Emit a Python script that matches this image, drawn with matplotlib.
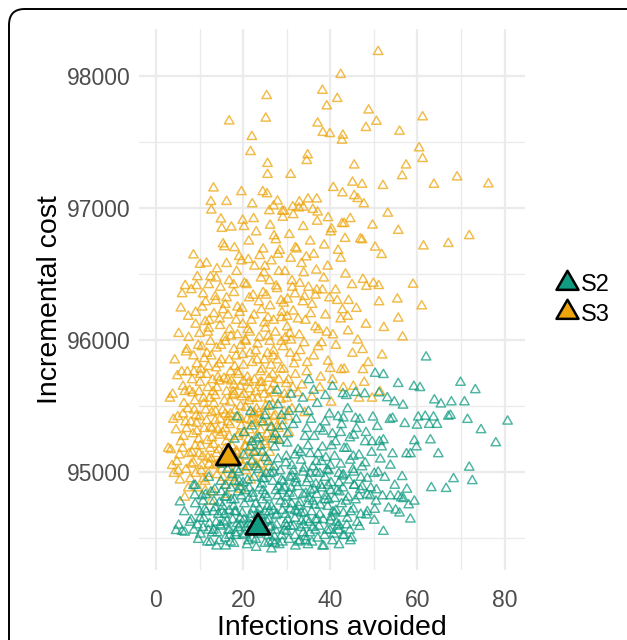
import matplotlib
matplotlib.use('Agg')
import matplotlib.pyplot as plt
from matplotlib.patches import FancyBboxPatch
from matplotlib.lines import Line2D
from matplotlib.path import Path

plt.rcParams['font.family'] = ['Liberation Sans', 'DejaVu Sans']

# ---------------- data ----------------
series_labels = ['S2', 'S3']
series_colors = ['#119C82', '#EDA50C']

# S2: (infections avoided, incremental cost)
s2_xy = [
    # sparse right / top part
    (62.0,95872),(55.6,95671),(59.2,95649),(60.6,95640),(69.9,95680),(73.3,95624),(50.3,95748),(52.2,95739),
    (45.8,95603),(42.9,95594),(47.9,95594),(51.2,95600),(53.1,95563),(63.9,95547),(65.4,95516),(67.8,95532),
    (70.8,95532),(54.7,95532),(56.7,95507),(80.7,95386),(78.0,95222),(74.6,95321),(71.5,95399),(67.6,95430),
    (67.1,95423),(63.7,95417),(61.8,95423),(60.2,95417),(59.9,95355),(62.7,95361),(64.5,95361),(57.1,95368),
    (54.3,95408),(53.7,95399),(50.8,95346),(49.8,95417),(45.8,95408),(63.0,95244),(59.3,95238),(59.8,95191),
    (58.4,95139),(57.5,95139),(64.8,95139),(71.9,95037),(72.6,94935),(68.3,94950),(63.2,94882),(66.6,94876),
    (56.5,94966),(53.8,95052),(51.5,95099),(51.8,95191),(54.3,95139),(52.2,95244),(51.3,95232),(59.3,94780),
    (58.0,94752),(58.4,94644),(55.9,94690),(55.0,94712),(53.4,94728),(52.0,94820),(53.8,94820),(55.6,94820),
    (56.3,94805),(56.8,94799),(52.2,94551),(50.1,94635),(50.2,94718),(48.3,94675),(46.7,94588),(44.6,94480),
    (44.9,94502),(50.6,94866),(49.2,94820),(46.9,94866),(48.5,94953),(50.1,94990),
    (5.5,94774),(8.6,94898),(8.9,94826),(8.1,94640),
    # 95200-95500
    (18.6,95420),(20.2,95300),(21.7,95460),(23.1,95250),(24.6,95380),(26.0,95500),(27.4,95290),(28.8,95430),
    (30.1,95220),(31.5,95360),(32.9,95480),(34.2,95270),(35.6,95400),(37.0,95520),(38.4,95310),(39.8,95440),
    (41.2,95230),(42.6,95360),(44.0,95480),(45.4,95280),(46.8,95400),(48.2,95300),(49.6,95230),(33.7,95560),
    (36.2,95620),(38.9,95580),(35.1,95700),(31.0,95590),(27.8,95620),(40.5,95650),(43.7,95580),
    # 95000-95200
    (15.2,95060),(16.9,95160),(18.5,95020),(20.1,95130),(21.6,95190),(23.0,95040),(24.4,95150),(25.8,95080),
    (27.2,95190),(28.5,95010),(29.9,95120),(31.2,95050),(32.6,95170),(34.0,95030),(35.4,95140),(36.8,95080),
    (38.2,95190),(39.6,95010),(41.0,95120),(42.4,95060),(43.8,95180),(45.2,95020),(46.6,95130),(48.0,95070),
    (49.5,95150),(51.0,95000),(44.5,95260),(26.9,95250),(33.3,95090),
    # 94800-95000
    (9.0,94900),(10.6,94820),(12.1,94960),(13.5,94870),(14.9,94930),(16.2,94810),(17.5,94980),(18.8,94850),
    (20.0,94920),(21.3,94800),(22.5,94960),(23.8,94880),(25.0,94830),(26.3,94990),(27.5,94860),(28.8,94940),
    (30.0,94810),(31.3,94970),(32.5,94890),(33.8,94830),(35.0,94950),(36.3,94870),(37.6,94990),(38.9,94820),
    (40.2,94920),(41.5,94860),(42.8,94970),(44.1,94810),(45.5,94900),(47.0,94960),(48.5,94830),(24.3,94910),
    (29.5,94880),(34.6,94920),(39.5,94900),(19.2,94890),
    # 94600-94800
    (6.5,94700),(7.8,94620),(9.0,94760),(10.1,94650),(11.2,94720),(12.3,94610),(13.3,94780),(14.3,94680),
    (15.3,94740),(16.3,94630),(17.3,94790),(18.3,94700),(19.3,94650),(20.3,94760),(21.3,94610),(22.3,94720),
    (23.4,94680),(24.4,94790),(25.4,94630),(26.5,94740),(27.5,94670),(28.6,94780),(29.7,94610),(30.8,94720),
    (31.9,94650),(33.0,94770),(34.1,94690),(35.2,94620),(36.4,94750),(37.6,94680),(38.8,94790),(40.0,94630),
    (41.3,94710),(42.6,94760),(43.9,94650),(45.3,94720),(47.0,94680),(16.8,94710),(21.8,94680),(27.0,94710),
    (32.4,94700),(13.8,94620),(25.0,94700),(35.7,94700),
    # 94420-94600
    (4.6,94557),(5.2,94598),(6.0,94551),(6.6,94545),(8.7,94560),(9.7,94490),(10.8,94580),(11.8,94470),
    (12.9,94540),(13.9,94440),(14.9,94590),(15.9,94500),(16.9,94560),(17.9,94460),(18.9,94580),(19.9,94520),
    (20.9,94450),(21.9,94570),(22.9,94490),(24.0,94550),(25.0,94460),(26.1,94580),(26.5,94418),(27.2,94510),
    (28.3,94450),(29.4,94560),(30.5,94490),(31.6,94590),(32.7,94470),(33.8,94540),(34.9,94450),(36.0,94580),
    (37.1,94500),(38.2,94440),(39.3,94560),(40.5,94480),(41.7,94590),(42.9,94520),(18.4,94520),(23.5,94530),
    (28.8,94520),(34.3,94510),
    # core, second layer
    (12.6,94850),(14.6,94770),(16.0,94900),(17.8,94740),(19.6,94820),(21.0,94940),(22.9,94760),(24.6,94860),
    (26.0,94700),(27.9,94820),(29.6,94760),(31.0,94880),(32.8,94740),(34.4,94840),(36.0,94780),(37.8,94900),
    (39.4,94740),(41.0,94800),(42.9,94880),(14.1,94540),(15.6,94620),(17.1,94470),(18.6,94610),(20.4,94530),
    (21.6,94650),(23.0,94430),(24.7,94620),(25.8,94520),(27.7,94600),(29.0,94470),(30.2,94640),(31.9,94520),
    (33.4,94630),(35.3,94540),(36.6,94640),(38.7,94520),(40.2,94660),(42.0,94600),(11.0,94650),(9.5,94600),
    (10.8,94780),(19.0,95000),(22.0,95080),(25.3,94990),(28.0,95100),(30.7,94960),(33.8,95000),(36.0,95040),
    (39.0,95110),(42.0,94990),(44.6,95090),(47.3,95040),(23.7,95260),(29.0,95350),(34.9,95200),(37.6,95330),
    (40.5,95290),(43.2,95180),(46.0,95330),(30.5,95460),(25.0,95430),(22.6,95150),(18.0,95250),(16.4,95020),
    (44.5,94560),(42.0,94450),(38.5,94440),(35.8,94470),(32.0,94440),(30.0,94550),(25.9,94470),(22.1,94500),
    (19.4,94600),(16.0,94440),(12.0,94560),(48.5,94700),(50.5,94780),(45.8,94790),(43.0,94690),(46.2,94620),
    # core, third layer
    (13.2,94700),(15.0,94850),(16.6,94560),(18.0,94930),(19.8,94690),(21.4,94880),(23.2,94610),(24.8,94950),
    (26.4,94590),(28.1,94890),(29.8,94680),(31.5,94820),(33.2,94580),(34.9,94760),(36.7,94910),(38.4,94640),
    (40.1,94860),(41.9,94560),(43.6,94780),(45.4,95000),(47.3,94890),(20.9,95040),(24.0,95200),(27.1,95040),
    (30.2,95290),(33.2,95150),(36.3,95270),(39.3,95020),(42.4,95300),(45.3,95120),(48.0,95230),(35.0,95460),
    (38.8,95380),(41.8,95420),(28.0,95510),(22.0,95350),(31.9,95130),(26.8,94930),(23.7,94720),(20.6,94580),
    (17.6,94640),(14.5,94480),(11.5,94700),(10.2,94530),(27.3,94460),(33.0,94480),(37.4,94590),(40.8,94530),
    (43.8,94600),(46.6,94820),(49.3,94880),(52.5,94960),(54.8,94900),(57.6,94870),(38.0,95080),(35.4,94990),
    (30.9,94590),(25.6,94810),(22.2,94840),(18.0,94790),(15.8,94680),(29.0,94710),(32.1,94950),(36.9,94830),
    (42.0,94920),(44.7,94700),(40.6,94700),(34.5,94640),
    # core, fourth layer
    (12.5,94470),(13.6,94730),(14.7,94600),(15.8,94810),(16.9,94520),(18.0,94700),(19.1,94930),(20.2,94640),
    (21.2,94480),(22.3,94810),(23.4,94580),(24.5,94950),(25.6,94740),(26.7,94480),(27.8,94680),(28.9,94860),
    (30.0,94590),(31.1,94760),(32.2,94920),(33.3,94690),(34.4,94480),(35.5,94860),(36.6,94560),(37.7,94750),
    (38.8,94960),(39.9,94560),(41.0,94690),(42.1,94850),(43.2,94520),(44.3,94940),(22.0,95230),(25.2,95110),
    (28.3,95240),(31.5,95010),(34.6,95330),(37.2,95140),(40.3,95200),(43.0,95410),(26.5,95340),(32.2,95400),
    (24.1,94670),(27.4,94560),(30.6,94840),(33.9,94600),(37.0,94640),(39.6,94790),(20.5,94860),(17.2,94880),
    (15.2,94700),(18.3,94540),(21.8,94600),(25.9,94640),(29.2,94930),(31.9,94710),(35.1,94800),(38.1,94880),
    (41.4,94620),(27.0,95000),(23.5,95020),(29.8,95070),(36.8,95000),(40.0,95050),(13.2,94560),(11.4,94830),
    (10.0,94700),(17.0,95080),(45.5,94900),(43.0,94980),
]

# S3: (infections avoided, incremental cost)
s3_xy = [
    # sparse upper / right part
    (51.0,98186),(42.4,98012),(38.2,97892),(41.6,97830),(39.2,97774),(25.4,97852),(25.2,97681),(16.8,97660),
    (48.8,97743),(50.6,97657),(48.2,97610),(37.1,97644),(38.3,97573),(39.9,97564),(42.9,97552),(42.7,97514),
    (61.2,97691),(55.9,97582),(60.4,97456),(61.2,97375),(57.4,97326),(56.5,97245),(45.5,97326),(22.0,97542),
    (21.7,97428),(34.8,97403),(34.6,97360),(25.6,97338),(25.6,97255),(30.9,97255),(69.1,97236),(76.3,97183),
    (63.8,97180),(52.1,97171),(47.3,97180),(45.1,97196),(40.7,97156),(42.8,97115),(45.5,97094),(46.3,97072),
    (47.7,97032),(13.2,97152),(19.6,97124),(24.5,97124),(25.5,97108),(22.1,97032),(16.2,97050),(12.6,97050),
    (12.7,96985),(27.9,97053),(27.0,97016),(29.0,96976),(29.4,96976),(31.4,97010),(32.9,97047),(34.9,97069),
    (36.9,97069),(37.1,96970),(32.8,97001),(33.8,97007),(39.5,96927),(53.2,96961),(49.7,96871),(42.7,96883),
    (43.2,96883),(40.3,96843),(55.6,96831),(71.9,96791),(67.1,96732),(61.4,96713),(46.9,96766),(47.3,96760),
    (50.3,96704),(51.8,96648),(59.0,96423),(51.1,96413),(48.3,96407),(51.2,96290),(55.4,96311),(61.0,96259),
    (55.6,96166),(52.3,96095),(56.6,96024),(51.9,95887),(47.4,95928),(47.5,95776),(47.8,95680),(51.4,95609),
    (42.5,95776),(40.0,95785),(19.9,96908),(14.9,96917),(17.3,96856),(15.1,96846),(15.4,96729),(15.7,96707),
    (19.1,96633),(8.6,96645),(10.1,96574),(11.6,96583),(6.7,96413),(6.0,96351),(8.1,96382),(9.3,96413),
    (5.7,96243),
    # 96700-97000
    (21.3,96750),(23.0,96820),(24.6,96690),(26.2,96870),(27.5,96760),(29.1,96930),(30.6,96800),(32.3,96690),
    (33.8,96860),(35.4,96750),(37.0,96900),(38.6,96720),(40.1,96820),(41.8,96680),(43.4,96770),(26.0,96980),
    (31.5,96950),(22.4,96920),(36.0,96990),(28.0,96650),(34.5,96630),(44.6,96920),
    # 96300-96700
    (12.5,96480),(14.0,96540),(16.8,96450),(18.5,96520),(20.3,96430),(22.6,96560),(24.1,96470),(26.5,96600),
    (27.8,96390),(29.6,96520),(31.2,96450),(33.4,96580),(35.0,96400),(36.8,96530),(38.5,96470),(41.2,96380),
    (43.5,96500),(45.0,96420),(10.8,96350),(13.6,96330),(17.9,96360),(21.4,96320),(25.3,96340),(30.2,96310),
    (34.1,96330),(39.8,96320),(44.2,96300),(19.6,96600),(23.8,96640),(28.4,96680),(32.0,96700),(36.2,96650),
    (14.8,96400),(9.5,96480),
    # 96000-96300
    (5.2,96050),(7.4,96180),(9.1,96120),(10.6,96250),(11.9,96060),(13.3,96200),(14.7,96110),(15.9,96270),
    (17.2,96030),(18.4,96150),(19.8,96240),(21.1,96080),(22.5,96190),(23.7,96020),(24.9,96130),(26.2,96260),
    (27.4,96060),(28.8,96170),(30.1,96100),(31.5,96220),(32.9,96040),(34.3,96150),(35.8,96270),(37.3,96080),
    (38.9,96190),(40.6,96040),(42.4,96160),(44.1,96070),(46.3,96000),(48.2,96120),(20.5,96000),(25.8,96030),
    (16.5,96190),(12.2,96150),(29.3,96280),(33.7,96290),
    # 95700-96000
    (4.3,95850),(5.9,95760),(7.1,95930),(8.3,95700),(9.4,95820),(10.5,95950),(11.6,95740),(12.7,95880),
    (13.8,95790),(14.9,95960),(15.6,95710),(16.8,95850),(17.9,95930),(18.7,95760),(19.9,95890),(21.0,95720),
    (22.1,95830),(23.3,95970),(24.4,95780),(25.6,95900),(26.8,95740),(27.9,95850),(29.2,95950),(30.4,95700),
    (31.7,95820),(33.1,95920),(34.6,95760),(36.2,95880),(37.8,95720),(39.5,95840),(41.3,95960),(43.2,95780),
    (45.1,95900),(14.2,95720),(20.6,95990),(26.1,95990),(11.1,95860),(18.1,95800),(24.9,95850),(28.6,95780),
    # 95400-95700
    (3.2,95560),(3.8,95590),(5.0,95420),(6.2,95650),(7.3,95480),(8.4,95600),(9.2,95430),(10.1,95680),
    (11.0,95520),(11.9,95640),(12.8,95450),(13.6,95580),(14.5,95690),(15.3,95470),(16.2,95610),(17.0,95530),
    (17.9,95660),(18.8,95410),(19.7,95570),(20.6,95490),(21.5,95630),(22.4,95440),(23.3,95560),(24.3,95680),
    (25.2,95500),(26.3,95620),(27.4,95430),(28.6,95550),(29.9,95670),(31.2,95480),(32.6,95600),(34.1,95450),
    (35.8,95570),(37.6,95640),(40.2,95530),(12.3,95560),(16.6,95420),(20.1,95690),(24.8,95590),(8.9,95540),
    # 95100-95400
    (2.8,95180),(3.4,95170),(4.6,95320),(5.7,95230),(6.8,95380),(7.6,95140),(8.5,95290),(9.3,95370),
    (10.2,95200),(11.1,95330),(11.9,95110),(12.8,95260),(13.6,95390),(14.4,95170),(15.3,95300),(16.1,95230),
    (17.0,95360),(17.9,95130),(18.8,95270),(19.6,95350),(20.5,95190),(21.4,95320),(22.3,95150),(23.2,95280),
    (24.1,95380),(25.0,95210),(26.2,95340),(27.5,95250),(28.9,95390),(30.5,95300),(9.9,95140),(13.2,95210),
    (16.4,95140),(21.8,95390),(6.3,95270),
    # 94800-95100
    (3.7,95050),(4.1,94990),(4.8,95080),(5.5,94940),(6.6,94810),(6.9,95020),(7.9,94950),(8.6,95070),
    (9.6,94880),(10.4,95010),(11.3,94930),(12.2,95060),(13.1,94850),(14.0,94980),(14.9,95090),(15.8,94900),
    (16.7,95030),(17.6,94960),(18.6,95080),(19.5,94870),(20.6,95010),(21.8,94940),(23.0,95060),(24.4,94990),
    (26.0,95040),(12.6,94780),(9.1,94990),
    # mid-right
    (47.5,96460),(49.9,96430),(42.8,96230),(46.0,96240),(45.3,95650),(48.7,95830),(44.0,96180),(38.0,95980),
    (40.5,95700),(43.0,95640),(46.6,95560),(49.6,95560),
    # core, second layer
    (9.8,95250),(11.4,95470),(12.9,95330),(14.1,95060),(15.7,95540),(17.4,95200),(18.2,95470),(19.1,95090),
    (20.9,95400),(22.0,95230),(23.6,95450),(24.7,95110),(26.8,95510),(28.1,95330),(29.4,95460),(13.0,95700),
    (15.0,95850),(17.1,95760),(19.3,95650),(21.6,95900),(23.9,95680),(26.4,95810),(28.2,95700),(30.8,95900),
    (10.0,96050),(12.5,95990),(14.6,96160),(16.9,96080),(19.2,96210),(21.9,96150),(24.2,96230),(27.0,96150),
    (29.7,96020),(32.2,95870),(8.0,95380),(10.7,95120),(12.0,94990),(13.9,95140),(15.4,94960),(17.4,95070),
    (18.3,94920),(20.0,95050),(21.2,95250),(22.8,95370),(25.5,95290),(27.0,95420),(7.2,95760),(9.9,95610),
    (6.4,95520),(5.4,95130),(4.0,95400),(7.4,94880),(11.3,94860),(16.3,94830),(14.7,95400),(18.0,95590),
    (22.9,95610),(25.9,95710),(30.0,95560),(32.0,95740),(34.0,95980),(36.6,96100),(38.2,96380),(33.0,96430),
    (28.2,96520),(24.6,96360),(20.8,96420),(16.2,96320),(12.1,96420),(30.9,96620),(27.1,96790),(25.0,96560),
    (20.2,96860),(18.0,96700),
    # core, third layer
    (5.1,95010),(6.1,95180),(7.0,95330),(8.1,95060),(9.0,95200),(10.0,95420),(10.9,94950),(11.8,95240),
    (12.7,95100),(13.7,95460),(14.6,95280),(15.6,95100),(16.5,95380),(17.6,94990),(18.5,95160),(19.4,95500),
    (20.3,95300),(21.2,95040),(22.1,95560),(23.1,95160),(24.0,95320),(25.1,95460),(26.1,95150),(27.1,95600),
    (28.2,95240),(29.3,95780),(30.3,95420),(31.4,95640),(8.6,95880),(10.3,95780),(12.1,96090),(13.9,95940),
    (15.8,96020),(17.6,95580),(19.5,95960),(21.3,95540),(23.2,95850),(25.1,96090),(27.0,95920),(28.9,96210),
    (30.7,96050),(32.6,96160),(34.7,95830),(36.9,96380),(39.2,96060),(41.6,96300),(11.4,96290),(13.8,96470),
    (16.2,96580),(18.7,96250),(21.2,96610),(23.6,96290),(26.1,96450),(28.7,96300),(31.3,96400),(33.9,96510),
    (36.6,96340),(39.4,96560),(42.4,96620),(7.5,96020),(6.6,95610),(4.9,95730),(9.7,95960),(15.9,95330),
    (18.9,95740),(22.6,95700),(25.9,95380),(13.4,95050),(20.2,95590),(24.0,95060),
    # core, fourth layer
    (8.3,95150),(9.4,95310),(10.5,95050),(11.6,95390),(12.4,95180),(13.3,95520),(14.2,95320),(15.1,95020),
    (15.9,95440),(16.8,95270),(17.7,95610),(18.6,95140),(19.5,95400),(20.4,95200),(21.3,95680),(22.2,95090),
    (23.1,95480),(24.0,95760),(25.0,95230),(25.9,95560),(26.9,95880),(27.8,95350),(28.8,95990),(10.2,95740),
    (11.7,95900),(13.1,95610),(14.5,95820),(15.9,95990),(17.3,95690),(18.7,96040),(20.1,95810),(21.5,96060),
    (22.9,95920),(24.3,95640),(25.7,96170),(27.1,95670),(8.8,95470),(7.7,95620),(6.9,95910),(9.1,96210),
    (11.3,96140),(13.7,96300),(15.4,96230),(17.8,96420),(19.9,96120),(22.3,96340),(24.8,96510),(27.6,96410),
    (30.1,96180),(31.9,96350),(12.5,95340),(16.0,95180),(19.0,95290),(22.5,95450),(17.1,95440),(20.7,95120),
    (14.0,95640),(16.4,95700),(18.4,95880),(23.8,95400),(26.6,95270),(29.5,95590),(31.0,96000),(33.5,95660),
    (35.5,96200),(37.2,95950),(10.9,95560),(12.0,95800),(8.7,95760),(6.2,95440),
]

# group means (big black-outlined triangles)
mean_x = [23.4, 16.6]
mean_y = [94582, 95108]

x_ticks = [0, 20, 40, 60, 80]
y_ticks = [95000, 96000, 97000, 98000]

# ---------------- figure ----------------
tri = Path([(0.0, 1.0), (-0.866, -0.5), (0.866, -0.5), (0.0, 1.0)],
           [Path.MOVETO, Path.LINETO, Path.LINETO, Path.CLOSEPOLY])

fig = plt.figure(figsize=(6.27, 6.40), dpi=100)
ax = fig.add_axes([0.2217, 0.1094, 0.8373 - 0.2217, 0.9553 - 0.1094])

for pts, col in zip([s3_xy, s2_xy], [series_colors[1], series_colors[0]]):
    xs = [p[0] for p in pts]
    ys = [p[1] for p in pts]
    ax.scatter(xs, ys, marker=tri, s=62, facecolors='none', edgecolors=col,
               linewidths=1.05, alpha=0.75, zorder=2)

ax.scatter(mean_x, mean_y, marker=tri, s=400, c=series_colors,
           edgecolors='black', linewidths=2.0, zorder=5)

ax.set_xlim(-3.9, 84.7)
ax.set_ylim(94260, 98361)
ax.set_xticks(x_ticks)
ax.set_xticks([10, 30, 50, 70], minor=True)
ax.set_yticks(y_ticks)
ax.set_yticks([94500, 95500, 96500, 97500], minor=True)
ax.grid(which='major', color='#EBEBEB', linewidth=1.6)
ax.grid(which='minor', color='#EBEBEB', linewidth=1.0)
ax.set_axisbelow(True)
for sp in ax.spines.values():
    sp.set_visible(False)
ax.tick_params(which='both', length=0, labelsize=16.5, labelcolor='#4D4D4D')
ax.tick_params(axis='x', pad=14)
ax.tick_params(axis='y', pad=6)

ax.set_xlabel('Infections avoided', fontsize=20.5, color='black')
ax.set_ylabel('Incremental cost', fontsize=20.5, color='black')
ax.xaxis.set_label_coords(0.5, -0.0825)
ax.yaxis.set_label_coords(-0.197, 0.5)

handles = [Line2D([], [], linestyle='none', marker=tri, markersize=18.3,
                  markerfacecolor=c, markeredgecolor='black', markeredgewidth=1.8)
           for c in series_colors]
fig.legend(handles, series_labels, loc='center left', bbox_to_anchor=(555 / 627, 1 - 300 / 640),
           frameon=False, fontsize=17, handlelength=1.0, handletextpad=0.1,
           labelspacing=0.3, borderpad=0, borderaxespad=0)

border = FancyBboxPatch((9 / 627, -0.2), 1.2, 1 - 9 / 640 + 0.2,
                        boxstyle='round,pad=0,rounding_size=0.025',
                        transform=fig.transFigure, fill=False, edgecolor='black',
                        linewidth=1.4, zorder=10)
fig.patches.append(border)

fig.savefig('out.png', dpi=100)
